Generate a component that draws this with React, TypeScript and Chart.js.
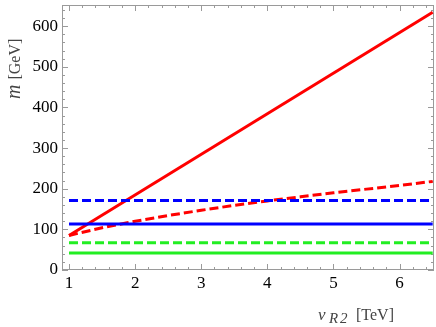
import React, { useEffect, useRef } from "react";
import { Chart, registerables } from "chart.js";

Chart.register(...registerables);

// Data
const vLine = [1, 6.5];
const redSolid = [85, 634];
const vCurve = [1, 1.5, 2, 2.5, 3, 3.5, 4, 4.5, 5, 5.5, 6, 6.5];
const redDashed = [85, 104, 120, 134, 147, 159, 170, 180, 190, 199, 208, 218];
const blueDashed = [171, 171];
const blueSolid = [113, 113];
const greenDashed = [67, 67];
const greenSolid = [42, 42];

const xTickValues = [1, 2, 3, 4, 5, 6];
const yTickValues = [0, 100, 200, 300, 400, 500, 600];

const X_MIN = 0.894;
const X_MAX = 6.52;
const Y_MIN = 0;
const Y_MAX = 652;

const RED = "#ff0000";
const BLUE = "#0000ff";
const GREEN = "#22ee22";
const FRAME = "#9a9a9a";
const SERIF = "'Liberation Serif', 'DejaVu Serif', serif";

const pts = (xs: number[], ys: number[]) => xs.map((x, i) => ({ x, y: ys[i] }));

const framePlugin = {
  id: "frameTicks",
  beforeDatasetsDraw(chart: any) {
    const { ctx, chartArea: a, scales } = chart;
    const xs = scales.x;
    const ys = scales.y;
    ctx.save();
    ctx.strokeStyle = FRAME;
    ctx.lineWidth = 1;
    ctx.strokeRect(a.left + 0.5, a.top + 0.5, a.right - a.left - 1, a.bottom - a.top - 1);
    ctx.beginPath();
    for (let i = 0; i <= 60; i++) {
      const v = 0.2 * i;
      if (v < X_MIN || v > X_MAX) continue;
      const major = Math.abs(v - Math.round(v)) < 1e-6;
      const len = major ? 6 : 3;
      const px = Math.round(xs.getPixelForValue(v)) + 0.5;
      ctx.moveTo(px, a.bottom);
      ctx.lineTo(px, a.bottom - len);
      ctx.moveTo(px, a.top);
      ctx.lineTo(px, a.top + len);
    }
    for (let i = 0; i <= 40; i++) {
      const v = 20 * i;
      if (v < Y_MIN || v > Y_MAX) continue;
      const major = v % 100 === 0;
      const len = major ? 6 : 3;
      const py = Math.round(ys.getPixelForValue(v)) + 0.5;
      ctx.moveTo(a.left, py);
      ctx.lineTo(a.left + len, py);
      ctx.moveTo(a.right, py);
      ctx.lineTo(a.right - len, py);
    }
    ctx.stroke();
    ctx.restore();
  },
  afterDraw(chart: any) {
    const { ctx } = chart;
    ctx.save();
    ctx.fillStyle = "#444";
    const base = 320;
    ctx.textBaseline = "alphabetic";
    ctx.textAlign = "left";
    ctx.font = `italic 17px ${SERIF}`;
    ctx.fillText("v", 318, base);
    ctx.font = `italic 15px ${SERIF}`;
    ctx.fillText("R", 329, base + 3);
    ctx.fillText("2", 340, base + 3);
    ctx.font = `16px ${SERIF}`;
    ctx.fillText("[TeV]", 356, base);
    ctx.translate(20, 99);
    ctx.rotate(-Math.PI / 2);
    ctx.font = `italic 20px ${SERIF}`;
    ctx.fillText("m", 0, 0);
    const mw = ctx.measureText("m").width + 5;
    ctx.font = `16px ${SERIF}`;
    ctx.fillText("[GeV]", mw, 0);
    ctx.restore();
  },
};

export default function App() {
  const ref = useRef<HTMLCanvasElement | null>(null);
  useEffect(() => {
    document.body.style.margin = "0";
    if (!ref.current) return;
    const ds = (label: string, data: any[], color: string, dashed: boolean) => ({
      label,
      data,
      borderColor: color,
      backgroundColor: color,
      borderWidth: 3,
      borderDash: dashed ? [9, 4] : [],
      pointRadius: 0,
      tension: 0,
      fill: false,
    });
    const chart = new Chart(ref.current, {
      type: "line",
      data: {
        datasets: [
          ds("green solid", pts(vLine, greenSolid), GREEN, false),
          ds("green dashed", pts(vLine, greenDashed), GREEN, true),
          ds("blue solid", pts(vLine, blueSolid), BLUE, false),
          ds("blue dashed", pts(vLine, blueDashed), BLUE, true),
          ds("red dashed", pts(vCurve, redDashed), RED, true),
          ds("red solid", pts(vLine, redSolid), RED, false),
        ],
      },
      options: {
        animation: false,
        responsive: false,
        maintainAspectRatio: false,
        devicePixelRatio: 1,
        layout: { padding: { top: 5, right: 2, left: 0, bottom: 0 } },
        plugins: { legend: { display: false }, tooltip: { enabled: false } },
        scales: {
          x: {
            type: "linear",
            min: X_MIN,
            max: X_MAX,
            afterBuildTicks: (s: any) => {
              s.ticks = xTickValues.map((v) => ({ value: v }));
            },
            afterFit: (s: any) => {
              s.height = 57;
              s.paddingLeft = 0;
              s.paddingRight = 0;
            },
            grid: { display: false, drawTicks: false },
            border: { display: false },
            ticks: {
              color: "#000",
              padding: 3,
              font: { family: SERIF, size: 17 },
              maxRotation: 0,
              autoSkip: false,
              callback: (v: any) => String(v),
            },
          },
          y: {
            type: "linear",
            min: Y_MIN,
            max: Y_MAX,
            afterBuildTicks: (s: any) => {
              s.ticks = yTickValues.map((v) => ({ value: v }));
            },
            afterFit: (s: any) => {
              s.width = 62;
              s.paddingTop = 0;
              s.paddingBottom = 0;
            },
            grid: { display: false, drawTicks: false },
            border: { display: false },
            ticks: {
              color: "#000",
              padding: 4,
              font: { family: SERIF, size: 17 },
              autoSkip: false,
              callback: (v: any) => String(v),
            },
          },
        },
      },
      plugins: [framePlugin],
    });
    return () => chart.destroy();
  }, []);
  return (
    <div style={{ position: "absolute", left: 0, top: 0, width: 436, height: 327 }}>
      <canvas ref={ref} width={436} height={327} style={{ width: 436, height: 327 }} />
    </div>
  );
}
